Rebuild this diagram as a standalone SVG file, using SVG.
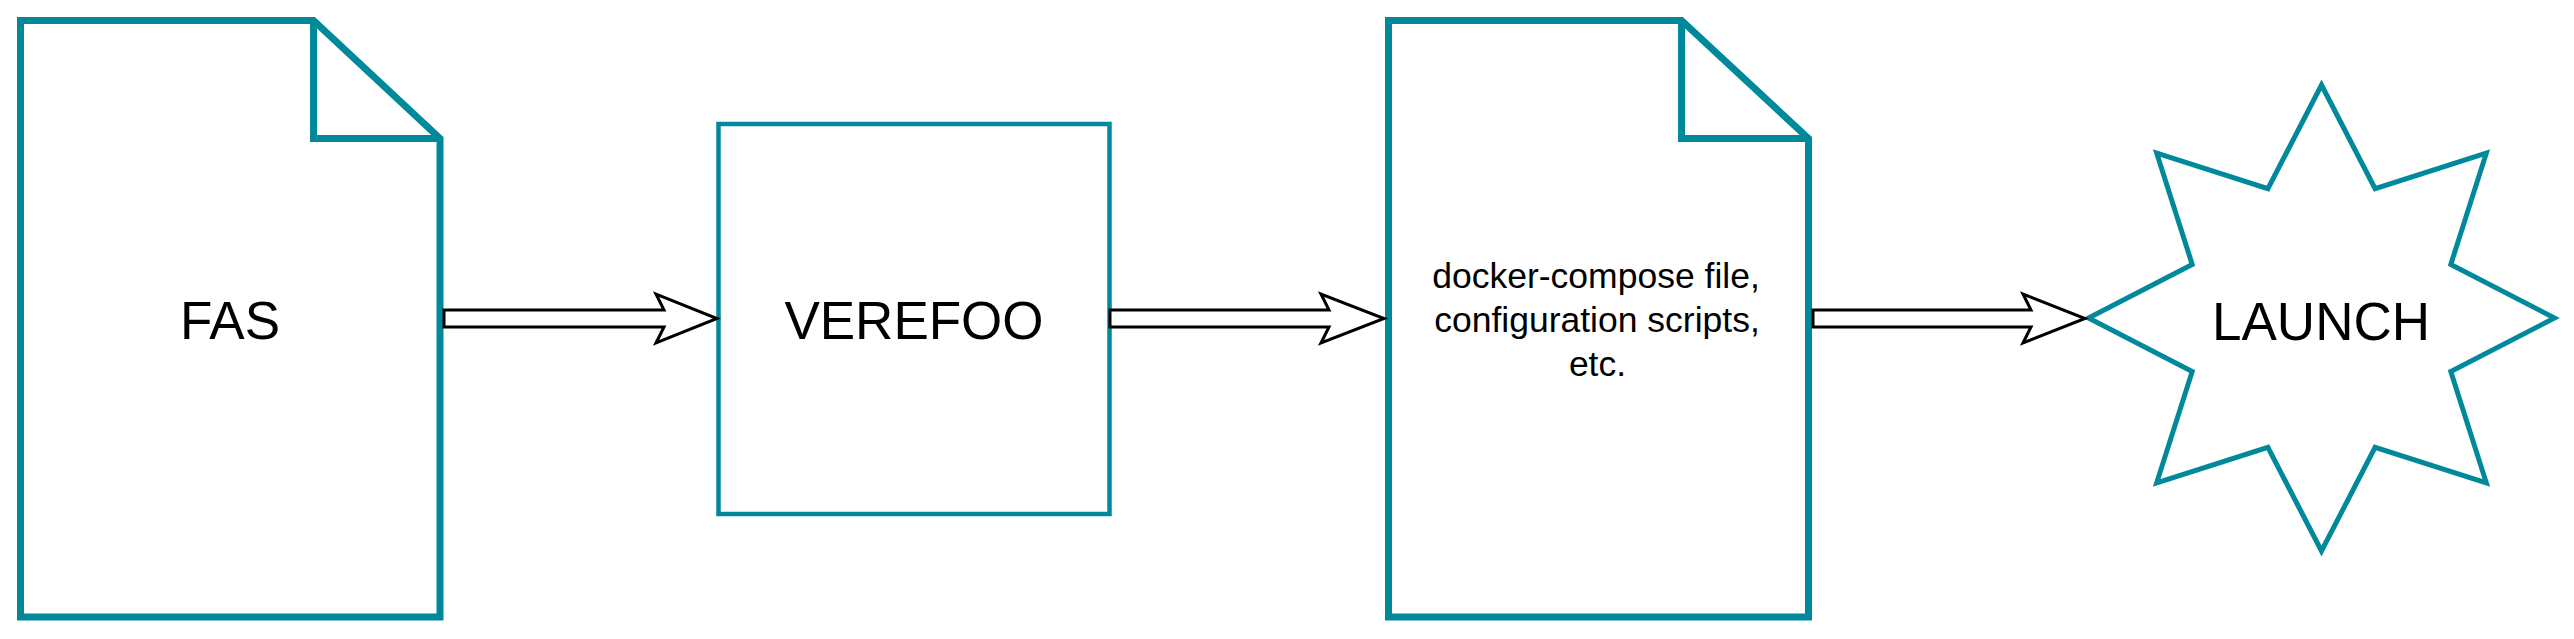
<svg xmlns="http://www.w3.org/2000/svg" width="2574" height="639" viewBox="0 0 2574 639">
<style>
.node{fill:#ffffff;stroke:#00899A;stroke-linejoin:miter}
.doc{stroke-width:7}
.thin{stroke-width:4.5}
.star{stroke-width:5}
.fold{fill:none;stroke:#00899A;stroke-width:7}
.lbl{font-family:"Liberation Sans",Arial,sans-serif;fill:#000000;text-anchor:middle}
.big{font-size:53px}
.small{font-size:35.5px}
.arrow{fill:#ffffff;stroke:#000000;stroke-width:3;stroke-linejoin:miter}
</style>
<rect width="2574" height="639" fill="#ffffff"/>
<g id="fas">
<path class="node doc" d="M20.5,20.5 H313.5 L440,138.5 V617 H20.5 Z"/>
<path class="fold" d="M313.5,20.5 V138.5 H440"/>
<text class="lbl big" x="230" y="339">FAS</text>
</g>
<g id="verefoo">
<rect class="node thin" x="718.5" y="124" width="391" height="390"/>
<text class="lbl big" x="914" y="339">VEREFOO</text>
</g>
<g id="output-files">
<path class="node doc" d="M1388.5,20.5 H1681.5 L1808.5,138.5 V617 H1388.5 Z"/>
<path class="fold" d="M1681.5,20.5 V138.5 H1808.5"/>
<text class="lbl small" x="1596" y="287.5">docker-compose file,</text>
<text class="lbl small" x="1597" y="331.7">configuration scripts,</text>
<text class="lbl small" x="1597.5" y="376">etc.</text>
</g>
<g id="launch">
<polygon class="node star" points="2321.5,85 2375.1,188.7 2486.3,153.2 2450.8,264.4 2554.5,318 2450.8,371.6 2486.3,482.8 2375.1,447.3 2321.5,551 2267.9,447.3 2156.7,482.8 2192.2,371.6 2088.5,318 2192.2,264.4 2156.7,153.2 2267.9,188.7"/>
<text class="lbl big" x="2321" y="340">LAUNCH</text>
</g>
<g id="connectors">
<path class="arrow" d="M444,310 L664,310 L656,294 L717,318.5 L656,343 L664,327 L444,327 Z"/>
<path class="arrow" d="M1110,310 L1329,310 L1321,294 L1384,318.5 L1321,343 L1329,327 L1110,327 Z"/>
<path class="arrow" d="M1813,310 L2031,310 L2023,294 L2085,318.5 L2023,343 L2031,327 L1813,327 Z"/>
</g>
</svg>
